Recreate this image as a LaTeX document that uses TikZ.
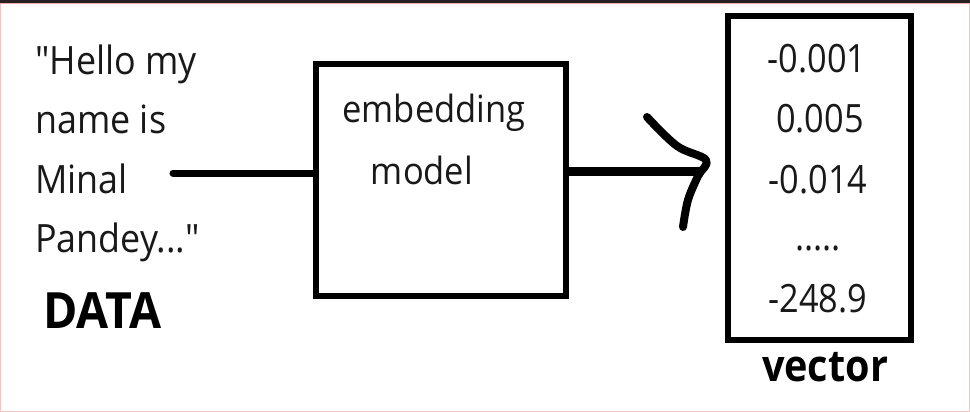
\documentclass[tikz,border=0pt]{standalone}
\usepackage{fontspec}
\setmainfont{Open Sans}
\newfontfamily\txtfont{Open Sans}[FakeStretch=0.92]
\newfontfamily\numfont{Open Sans}[FakeStretch=0.88]
\newfontfamily\boldfont{Open Sans}[FakeStretch=0.9,UprightFont=* Bold]
\newfontfamily\databold{Open Sans}[FakeStretch=0.93,UprightFont=* Bold]
\begin{document}
\begin{tikzpicture}[x=1pt,y=-1pt,
  box/.style={draw=black,line width=6pt,inner sep=0pt},
  lefttxt/.style={anchor=base west,inner sep=0pt,font=\txtfont\fontsize{39}{40}\selectfont,text=black!90},
  embtxt/.style={anchor=base,inner sep=0pt,font=\txtfont\fontsize{37.5}{40}\selectfont,text=black!90},
  numtxt/.style={anchor=base,inner sep=0pt,font=\numfont\fontsize{39}{40}\selectfont,text=black!90},
  boldtxt/.style={anchor=base,inner sep=0pt,font=\boldfont\fontsize{44}{48}\selectfont},
  stroke/.style={line width=#1,line cap=round,line join=round}]
\useasboundingbox (0,0) rectangle (970,412);
\fill[white] (0,0) rectangle (970,412);
% frame
\draw[draw={rgb,255:red,244;green,196;blue,196},line width=1.2pt] (0.6,3) -- (0.6,411.4) -- (969.4,411.4) -- (969.4,3);
\draw[draw={rgb,255:red,240;green,170;blue,170},line width=1pt] (0,3.2) -- (970,3.2);
\draw[draw={rgb,255:red,40;green,32;blue,34},line width=2.6pt] (0,1.3) -- (970,1.3);
% left text
\node[lefttxt] (l1) at (35,75) {"Hello my};
\node[lefttxt] (l2) at (35,133) {name is};
\node[lefttxt] (l3) at (35,193) {Minal};
\node[lefttxt] (l4) at (35,252) {Pandey..."};
\node[anchor=base west,inner sep=0pt,font=\databold\fontsize{50}{52}\selectfont] (data) at (43,328) {DATA};
% embedding box
\node[box,minimum width=250pt,minimum height=232pt] (emb) at (441,180) {};
\node[embtxt] (e1) at (434,122) {embedding};
\node[embtxt] (e2) at (422,184) {model};
% vector box
\node[box,minimum width=183pt,minimum height=324pt] (vec) at (819.5,178) {};
\node[numtxt] (n1) at (817,73) {-0.001};
\node[numtxt] (n2) at (820,132) {0.005};
\node[numtxt] (n3) at (818,193) {-0.014};
\node[numtxt] (n4) at (818,250) {.....};
\node[numtxt] (n5) at (818,312) {-248.9};
\node[boldtxt] (vlab) at (825,381) {vector};
% connectors
\coordinate (src) at (173,173);
\draw[stroke=7pt] (src) -- (src -| emb.west);
\coordinate (tip) at (700,171);
\draw[stroke=9pt] (emb.east |- tip) -- (tip);
\coordinate (h1) at (647,117);
\coordinate (h2) at (677,146);
\coordinate (h3) at (706,160);
\coordinate (h4) at (698,176);
\coordinate (h5) at (688,200);
\coordinate (h6) at (683,227);
\draw[stroke=8pt] plot[smooth,tension=0.6] coordinates {(h1) (h2) (h3) (h4) (h5) (h6)};
\end{tikzpicture}
\end{document}
